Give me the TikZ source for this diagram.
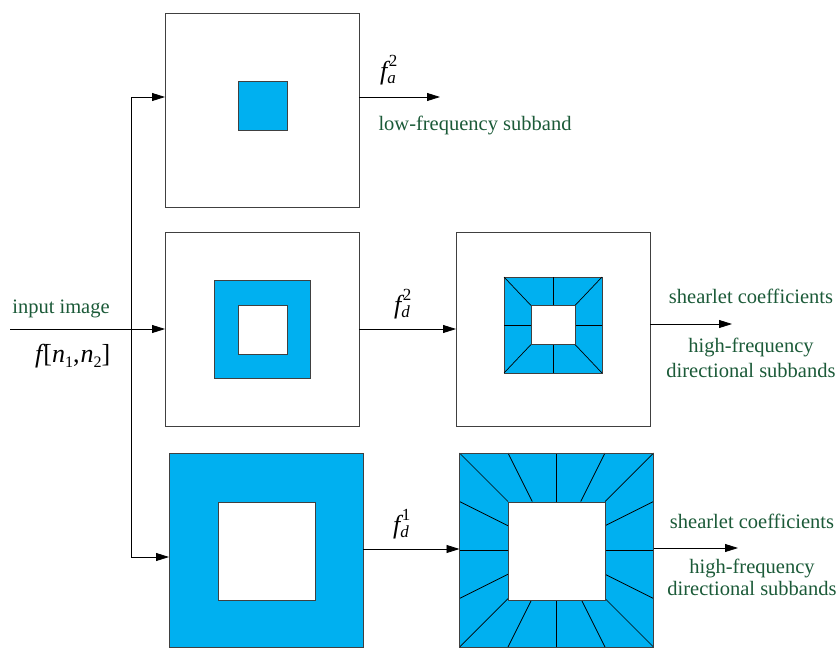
\documentclass[tikz,border=0pt]{standalone}
\usepackage{fontspec}
\setmainfont{Liberation Serif}
\usetikzlibrary{arrows.meta,calc}
\definecolor{fillblue}{HTML}{00B0F0}
\definecolor{labelgreen}{HTML}{1B5A38}
\definecolor{edgegray}{HTML}{404040}
% f with stacked super- and subscript
\newcommand\stackidx[2]{\rlap{\kern0.06em\raisebox{0.5em}{\fontsize{17}{17}\selectfont #1}}\raisebox{-0.16em}{\fontsize{17}{17}\selectfont #2}}
\newcommand\lowidx[1]{\raisebox{-0.2em}{\fontsize{16}{16}\selectfont #1}}
\begin{document}
\begin{tikzpicture}[x=1pt,y=-1pt,
  frame/.style={draw=edgegray,line width=0.8pt,minimum width=194pt,minimum height=194pt,inner sep=0pt,outer sep=0pt},
  patch/.style={draw=edgegray,line width=0.8pt,inner sep=0pt,outer sep=0pt},
  arr/.style={line width=0.8pt,-{Triangle[length=13pt,width=8pt]}},
  wire/.style={line width=0.8pt},
  tile/.style={line width=0.7pt,draw=black},
  lbl/.style={text=labelgreen,font=\fontsize{20.5}{24}\selectfont,inner sep=0pt,anchor=base},
  mlbl/.style={font=\fontsize{26}{30}\selectfont,inner sep=0pt,anchor=base west}
]
\useasboundingbox (0,0) rectangle (838,648);

% ---- top: low-pass branch
\node[frame] (lowbox) at (262,110) {};
\node[patch,fill=fillblue,minimum width=49pt,minimum height=49pt] (lowcore) at (262.5,105.5) {};

% ---- middle: band-pass branch and directional split
\node[frame] (midbox) at (262,329.5) {};
\node[patch,fill=fillblue,minimum width=96pt,minimum height=98pt] (midring) at (262,329) {};
\node[patch,fill=white,minimum width=49pt,minimum height=49pt] (midhole) at (262.5,329.5) {};

\node[frame] (dirbox) at (553,329.5) {};
\node[patch,fill=fillblue,minimum width=98pt,minimum height=96pt] (dirring) at (553,325) {};
\begin{scope}[shift={(dirring.center)}]
  \foreach \sx in {-1,1}{
    \foreach \sy in {-1,1}{
      \draw[tile] (\sx*49,\sy*48) -- (\sx*22,\sy*19.5);
    }
  }
  \draw[tile] (0,-48) -- (0,-19.5);
  \draw[tile] (0,48) -- (0,19.5);
  \draw[tile] (-49,0) -- (-22,0);
  \draw[tile] (49,0) -- (22,0);
\end{scope}
\node[patch,fill=white,minimum width=44pt,minimum height=39pt] (dirhole) at (553,325) {};

% ---- bottom: finest scale
\node[frame,fill=fillblue] (finebox) at (266,550) {};
\node[patch,fill=white,minimum width=97pt,minimum height=98pt] (finehole) at (266.5,551) {};

\node[frame,fill=fillblue] (finedir) at (556.5,550) {};
\foreach \r in {0,90,180,270}{
  \begin{scope}[shift={(finedir.center)},rotate=\r]
    \foreach \t in {-1,-0.5,0,0.5}{
      \draw[tile] (\t*97,-97) -- (\t*48.5,-48.5);
    }
  \end{scope}
}
\node[patch,fill=white,minimum width=97pt,minimum height=98pt] (finedirhole) at (556.5,551) {};
\node[frame] at (finedir.center) {};

% ---- input and splitting wires
\coordinate (src) at (10,329);
\coordinate (split) at (131,329);
\draw[arr] (src) -- (midbox.west |- src);
\draw[arr] (split) |- (lowbox.west |- 0,97);
\draw[arr] (split) |- (finebox.west |- 0,557);

\node[lbl] (inlbl) at (61,313) {input image};
\node[mlbl] (insig) at (35,362) {\itshape f\kern0.04em\upshape[\itshape n\upshape\lowidx{1},\kern0.04em\itshape n\upshape\lowidx{2}]};

% ---- outputs
\coordinate (lowout) at (440,97);
\draw[arr] (lowbox.east |- lowout) -- (lowout);
\node[mlbl] (fa) at (380,79) {\itshape f\stackidx{\upshape 2}{a}};
\node[lbl] (lowlbl) at (475,130) {low-frequency subband};

\draw[arr] (midbox.east |- 0,329) -- (dirbox.west |- 0,329);
\node[mlbl] (fd2) at (394,313) {\itshape f\stackidx{\upshape 2}{d}};

\coordinate (midout) at (732,324);
\draw[arr] (dirbox.east |- midout) -- (midout);
\node[lbl] (midc) at (751,303) {shearlet coefficients};
\node[lbl] (midh) at (751,352) {high-frequency};
\node[lbl] (midd) at (751,377) {directional subbands};

\draw[arr] (finebox.east |- 0,549) -- (finedir.west |- 0,549);
\node[mlbl] (fd1) at (393,533) {\itshape f\stackidx{\upshape 1}{d}};

\coordinate (fineout) at (738,548);
\draw[arr] (finedir.east |- fineout) -- (fineout);
\node[lbl] (finec) at (752,528) {shearlet coefficients};
\node[lbl] (fineh) at (752,573) {high-frequency};
\node[lbl] (fined) at (752,595) {directional subbands};
\end{tikzpicture}
\end{document}
